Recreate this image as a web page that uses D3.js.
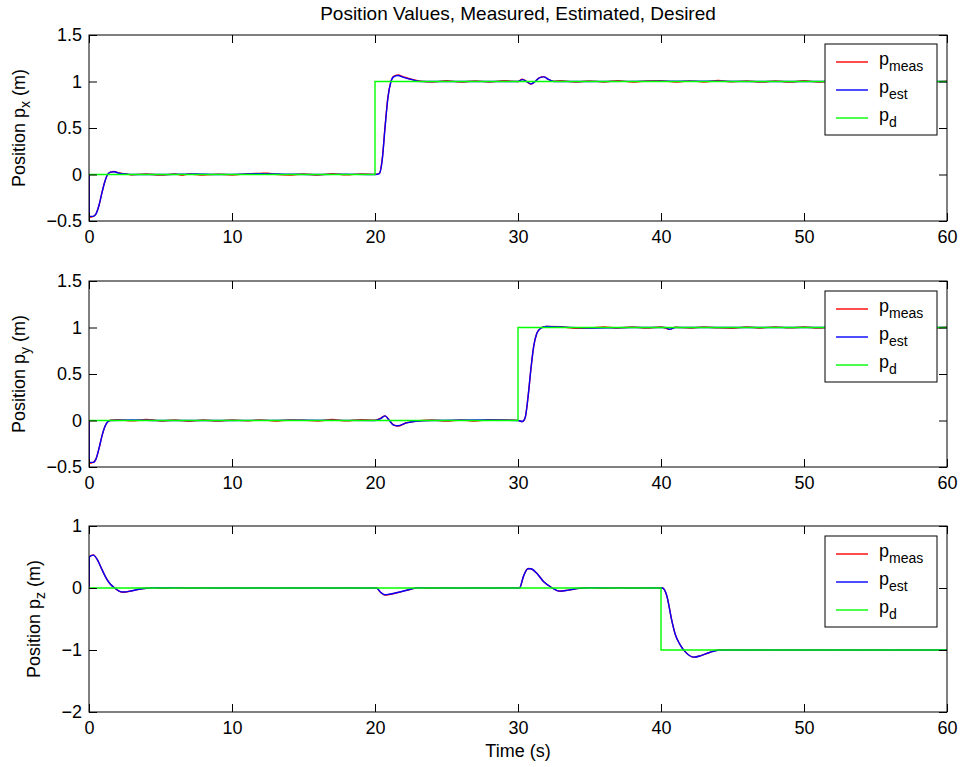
<!DOCTYPE html>
<html>
<head>
<meta charset="utf-8">
<script src="https://cdn.jsdelivr.net/npm/d3@7"></script>
<style>
body{margin:0;background:#fff;}
svg{display:block;}
text{font-family:"Liberation Sans",Arial,Helvetica,sans-serif;fill:#000;}
</style>
</head>
<body>
<div id="plot"></div>
<script>
// chart values
var title = 'Position Values, Measured, Estimated, Desired';
var timeTicks = [0,10,20,30,40,50,60];
var yTicksXY = [-0.5,0,0.5,1,1.5];
var yTicksZ = [-2,-1,0,1];
var axisNames = ['x','y','z'];
var legendNames = ['meas','est','d'];

// desired position (step changes)
var desiredX = [[0,0],[20,1],[60,1]];
var desiredY = [[0,0],[30,1],[60,1]];
var desiredZ = [[0,0],[40,-1],[60,-1]];

// estimated position
var estX = [[0,0],[0.02,-0.45],[0.3,-0.45],[0.5,-0.42],[0.7,-0.33],[0.9,-0.2],[1.1,-0.08],[1.3,0.0],[1.5,0.025],[1.75,0.03],[2.1,0.015],[2.6,0.005],[3,0],[5,0],[7.5,0.005],[9,0],[12,0.008],[14,0.003],[16,0],[18,0.003],[19.5,0],[20,0],[20.3,0.01],[20.5,0.15],[20.7,0.5],[20.9,0.82],[21.1,0.99],[21.3,1.05],[21.6,1.065],[22,1.045],[22.6,1.02],[23.2,1.0],[26,1.0],[30,1.0],[30.3,1.02],[30.6,1.0],[30.9,0.975],[31.2,1.0],[31.5,1.04],[31.8,1.05],[32.1,1.025],[32.5,1.0],[35,1.0],[40,1.003],[44,1.002],[48,1.0],[52,1.0],[56,1.0],[60,1.0]];
var estY = [[0,0],[0.02,-0.45],[0.3,-0.45],[0.5,-0.41],[0.7,-0.3],[0.9,-0.17],[1.1,-0.07],[1.3,-0.015],[1.5,0],[3,0.005],[5,0],[10,0],[15,0.003],[20,0],[20.4,0.02],[20.7,0.05],[21,0.0],[21.3,-0.05],[21.6,-0.057],[22.2,-0.025],[23,-0.005],[24,0],[28,0.005],[30,0],[30.3,-0.01],[30.5,0.03],[30.7,0.25],[30.9,0.55],[31.1,0.8],[31.3,0.93],[31.5,0.98],[31.7,1.0],[32,1.01],[33,1.005],[35,0.995],[38,1.0],[40.3,1.0],[40.6,0.98],[41,1.0],[45,1.0],[50,1.0],[55,1.0],[60,1.0]];
var estZ = [[0,0],[0.02,0.5],[0.3,0.53],[0.6,0.45],[0.9,0.3],[1.2,0.16],[1.5,0.06],[1.8,0],[2.1,-0.05],[2.4,-0.065],[3,-0.045],[3.5,-0.02],[4,-0.005],[4.5,0.005],[10,0],[20,0],[20.1,0],[20.4,-0.07],[20.7,-0.11],[21,-0.1],[21.8,-0.06],[22.5,-0.02],[23,0.005],[25,0],[30,0],[30.1,0],[30.4,0.2],[30.7,0.31],[30.9,0.31],[31.3,0.24],[31.8,0.1],[32.4,0],[32.9,-0.05],[33.5,-0.035],[34.3,-0.005],[35,0.005],[40,0],[40.1,0],[40.4,-0.12],[40.75,-0.52],[41,-0.75],[41.3,-0.9],[41.7,-1.03],[42.3,-1.115],[42.8,-1.09],[43.4,-1.04],[44,-1.005],[45,-1.0],[50,-1.0],[55,-1.0],[60,-1.0]];

// measured position (noisy)
var measX = [[0,0],[0.02,-0.46],[0.3,-0.45],[0.5,-0.42],[0.7,-0.33],[0.9,-0.2],[1.1,-0.08],[1.3,0.0],[1.5,0.026],[1.75,0.032],[2.1,0.016],[2.6,0.006],[3,-0.004],[4,0.006],[5,-0.007],[6,0.005],[6.5,-0.008],[7,0.006],[8,-0.006],[9,0.004],[10,-0.005],[11,0.007],[12,0.012],[12.5,0.014],[13,0.002],[14,-0.006],[15,0.006],[16,-0.005],[17,0.008],[18,-0.004],[19,0.007],[20,0.001],[20.3,0.012],[20.5,0.16],[20.7,0.51],[20.9,0.83],[21.1,0.99],[21.3,1.055],[21.6,1.07],[22,1.05],[22.6,1.022],[23.2,1.004],[24,0.995],[25,1.008],[26,0.994],[27,1.007],[28,0.995],[29,1.008],[30,1.0],[30.3,1.025],[30.6,1.0],[30.9,0.972],[31.2,1.0],[31.5,1.042],[31.8,1.052],[32.1,1.025],[32.5,1.003],[33,1.008],[34,0.994],[35,1.007],[36,0.995],[37,1.009],[38,0.993],[39,1.006],[40,1.008],[41,0.994],[42,1.007],[43,0.995],[44,1.01],[45,0.996],[46,1.006],[47,0.994],[48,1.007],[49,0.993],[50,1.008],[51,0.995],[52,1.006],[53,0.996],[54,1.007],[55,0.994],[56,1.006],[57,0.995],[58,1.007],[59,0.996],[60,1.004]];
var measY = [[0,0],[0.02,-0.46],[0.3,-0.45],[0.5,-0.41],[0.7,-0.3],[0.9,-0.17],[1.1,-0.07],[1.3,-0.013],[1.5,0.002],[2,0.008],[3,-0.004],[4,0.01],[4.5,0.006],[5,-0.005],[6,0.006],[7,-0.008],[8,0.005],[9,-0.006],[10,0.006],[11,-0.004],[12,0.007],[13,-0.005],[14,0.006],[15,0.004],[16,-0.006],[17,0.01],[18,-0.004],[19,0.008],[20,0.004],[20.4,0.025],[20.7,0.05],[21,0.004],[21.3,-0.048],[21.6,-0.06],[22.2,-0.024],[23,-0.006],[24,0.005],[25,-0.006],[26,0.006],[27,-0.005],[28,0.008],[29,0.006],[30,0.001],[30.3,-0.012],[30.5,0.03],[30.7,0.25],[30.9,0.55],[31.1,0.8],[31.3,0.93],[31.5,0.98],[31.7,1.003],[32,1.012],[33,1.008],[34,0.992],[35,0.994],[36,1.006],[37,0.995],[38,1.005],[39,0.994],[40,1.006],[40.6,0.98],[41,1.002],[42,0.995],[43,1.006],[44,0.996],[45,0.992],[46,1.006],[47,0.995],[48,1.007],[49,0.996],[50,1.005],[51,0.994],[52,1.006],[53,0.997],[54,1.008],[55,0.995],[56,1.006],[57,0.996],[58,1.005],[59,0.995],[60,1.003]];
var measZ = [[0,0],[0.02,0.5],[0.3,0.535],[0.6,0.45],[0.9,0.3],[1.2,0.16],[1.5,0.06],[1.8,0],[2.1,-0.05],[2.4,-0.068],[3,-0.045],[3.5,-0.02],[4,-0.004],[4.5,0.006],[5,-0.006],[6,0.005],[7,-0.006],[8,0.005],[9,-0.005],[10,0.006],[11,-0.005],[12,0.005],[13,-0.006],[14,0.005],[15,-0.005],[16,0.006],[17,-0.005],[18,0.005],[19,-0.006],[20,0.002],[20.1,0],[20.4,-0.072],[20.7,-0.115],[21,-0.105],[21.8,-0.062],[22.5,-0.02],[23,0.006],[24,-0.005],[25,0.005],[26,-0.006],[27,0.005],[28,-0.005],[29,0.006],[30,0.001],[30.1,0],[30.4,0.2],[30.7,0.315],[30.9,0.31],[31.3,0.24],[31.8,0.1],[32.4,0],[32.9,-0.052],[33.5,-0.035],[34.3,-0.006],[35,0.006],[36,-0.005],[37,0.005],[38,-0.006],[39,0.005],[40,0.001],[40.1,0],[40.4,-0.12],[40.75,-0.52],[41,-0.75],[41.3,-0.9],[41.7,-1.03],[42.3,-1.115],[42.8,-1.09],[43.4,-1.04],[44,-1.0],[45,-0.994],[46,-1.005],[47,-0.995],[48,-1.006],[49,-0.995],[50,-1.005],[51,-0.994],[52,-1.006],[53,-0.995],[54,-1.005],[55,-0.994],[56,-1.006],[57,-0.995],[58,-1.005],[59,-0.995],[60,-1.004]];

var colors = ['#ff0000','#0000ff','#00ff00'];

// drawing setup
var W = 962, H = 767;
var left = 89, right = 947, panelH = 186;
var tops = [35,281,526];
var fs = 18;

var panels = [
  {name:axisNames[0], domain:[-0.5,1.5], ticks:yTicksXY, series:[measX,estX,desiredX]},
  {name:axisNames[1], domain:[-0.5,1.5], ticks:yTicksXY, series:[measY,estY,desiredY]},
  {name:axisNames[2], domain:[-2,1], ticks:yTicksZ, series:[measZ,estZ,desiredZ]}
];

var svg = d3.select('#plot').append('svg')
  .attr('width',W).attr('height',H);

var x = d3.scaleLinear().domain([0,60]).range([left,right]);

function fmt(d){ return d < 0 ? '\u2212' + String(-d) : String(d); }

svg.append('text')
  .attr('x',(left+right)/2).attr('y',20)
  .attr('text-anchor','middle')
  .style('font-size','19px')
  .text(title);

panels.forEach(function(p,i){
  var top = tops[i];
  var y = d3.scaleLinear().domain(p.domain).range([top+panelH,top]);
  var g = svg.append('g');

  g.append('clipPath').attr('id','clip'+i)
    .append('rect').attr('x',left).attr('y',top).attr('width',right-left).attr('height',panelH);

  var curves = [d3.curveMonotoneX, d3.curveMonotoneX, d3.curveStepAfter];
  var lines = g.append('g').attr('clip-path','url(#clip'+i+')');
  p.series.forEach(function(s,k){
    var line = d3.line().x(function(d){return x(d[0]);}).y(function(d){return y(d[1]);}).curve(curves[k]);
    lines.append('path').datum(s)
      .attr('d',line)
      .attr('fill','none')
      .attr('stroke',colors[k])
      .attr('stroke-width',1.4);
  });

  // axes, ticks pointing inward on all four sides
  var bottom = g.append('g').attr('transform','translate(0,'+(top+panelH)+')')
    .call(d3.axisBottom(x).tickValues(timeTicks).tickSize(-8).tickPadding(9).tickFormat(fmt));
  var topAx = g.append('g').attr('transform','translate(0,'+top+')')
    .call(d3.axisTop(x).tickValues(timeTicks).tickSize(-8).tickFormat(''));
  var leftAx = g.append('g').attr('transform','translate('+left+',0)')
    .call(d3.axisLeft(y).tickValues(p.ticks).tickSize(-8).tickPadding(7).tickFormat(fmt));
  var rightAx = g.append('g').attr('transform','translate('+right+',0)')
    .call(d3.axisRight(y).tickValues(p.ticks).tickSize(-8).tickFormat(''));
  [bottom,topAx,leftAx,rightAx].forEach(function(a){
    a.select('.domain').remove();
    a.selectAll('line').attr('stroke','#000');
    a.selectAll('text').style('font-size',fs+'px').style('font-family','"Liberation Sans",Arial,Helvetica,sans-serif').attr('fill','#000');
  });

  g.append('rect')
    .attr('x',left).attr('y',top).attr('width',right-left).attr('height',panelH)
    .attr('fill','none').attr('stroke','#000').attr('stroke-width',1);

  // y label placed just left of widest tick label
  var maxW = 0;
  leftAx.selectAll('text').each(function(){ maxW = Math.max(maxW,this.getBBox().width); });
  var lx = left - 7 - maxW - 21;
  var yl = g.append('text')
    .attr('transform','translate('+lx+','+(top+panelH/2)+') rotate(-90)')
    .attr('text-anchor','middle')
    .style('font-size',fs+'px');
  yl.append('tspan').text('Position p');
  yl.append('tspan').attr('dy',5).style('font-size','14px').text(p.name);
  yl.append('tspan').attr('dy',-5).text(' (m)');

  // legend
  var lg = g.append('g').attr('transform','translate(825,'+(top+ (i===0?9:10))+')');
  lg.append('rect').attr('width',112).attr('height',91)
    .attr('fill','#fff').attr('stroke','#000').attr('stroke-width',1);
  legendNames.forEach(function(n,k){
    var ly = 18 + k*28;
    lg.append('line').attr('x1',11).attr('x2',43).attr('y1',ly).attr('y2',ly)
      .attr('stroke',colors[k]).attr('stroke-width',1.4);
    var t = lg.append('text').attr('x',54).attr('y',ly+3).style('font-size',fs+'px');
    t.append('tspan').text('p');
    t.append('tspan').attr('dy',6).style('font-size','14px').text(n);
  });
});

svg.append('text')
  .attr('x',(left+right)/2).attr('y',757)
  .attr('text-anchor','middle')
  .style('font-size',fs+'px')
  .text('Time (s)');
</script>
</body>
</html>
